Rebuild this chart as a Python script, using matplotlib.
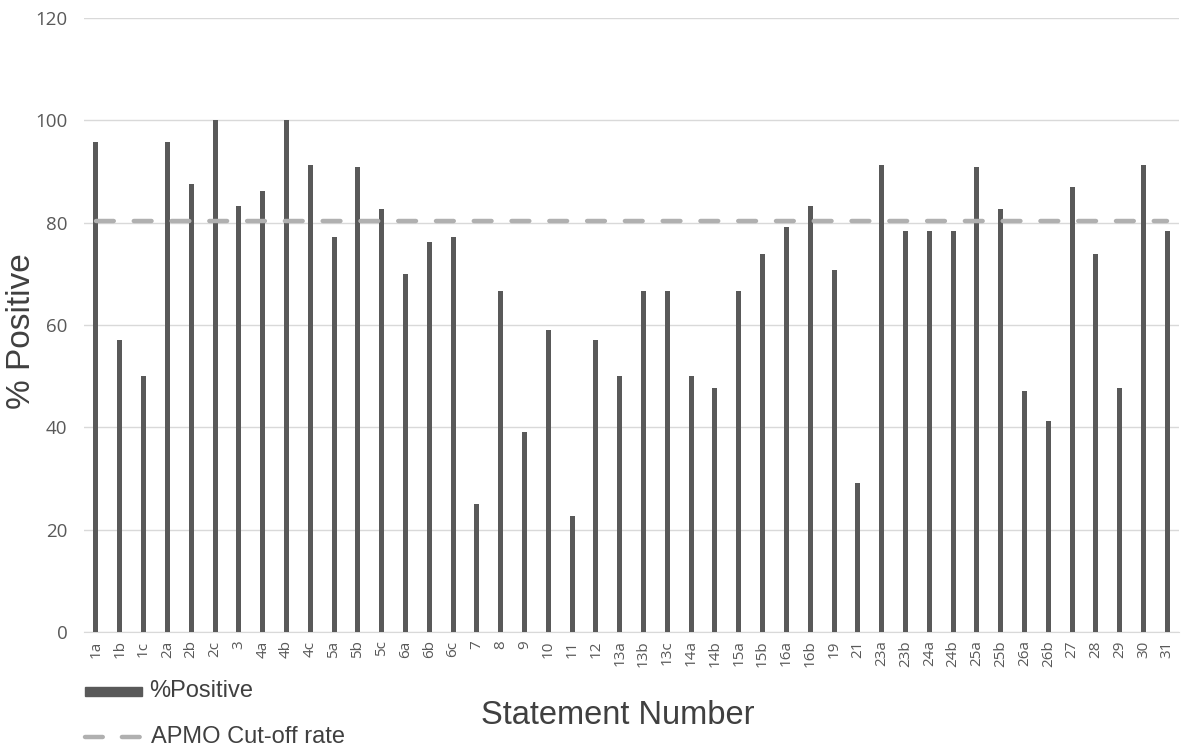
import numpy as np
import matplotlib.pyplot as plt
from matplotlib.lines import Line2D
from matplotlib.patches import Rectangle

# Data
statements = ["1a", "1b", "1c", "2a", "2b", "2c", "3", "4a", "4b", "4c",
              "5a", "5b", "5c", "6a", "6b", "6c", "7", "8", "9", "10",
              "11", "12", "13a", "13b", "13c", "14a", "14b", "15a", "15b", "16a",
              "16b", "19", "21", "23a", "23b", "24a", "24b", "25a", "25b", "26a",
              "26b", "27", "28", "29", "30", "31"]
pct_positive = [95.7, 57.1, 50.0, 95.8, 87.5, 100.0, 83.3, 86.2, 100.0, 91.3,
                77.3, 90.9, 82.6, 70.0, 76.2, 77.3, 25.0, 66.7, 39.1, 59.1,
                22.7, 57.1, 50.0, 66.7, 66.7, 50.0, 47.8, 66.7, 73.9, 79.2,
                83.3, 70.8, 29.2, 91.3, 78.3, 78.3, 78.3, 90.9, 82.6, 47.1,
                41.2, 87.0, 73.9, 47.8, 91.3, 78.3]
cutoff = 80.3

bar_color = "#595959"
line_color = "#b0b0b0"
text_color = "#595959"

fig = plt.figure(figsize=(11.84, 7.49), dpi=100)
ax = fig.add_axes([0.071, 0.156, 0.925, 0.82])

x = np.arange(len(statements))
ax.bar(x, pct_positive, width=0.21, color=bar_color, zorder=3)
ax.plot([0, len(statements) - 1], [cutoff, cutoff], color=line_color,
        lw=3.2, dashes=(4.0, 4.5), dash_capstyle="round", zorder=4)

ax.set_xlim(-0.5, len(statements) - 0.5)
ax.set_ylim(0, 120)
ax.set_yticks(range(0, 121, 20))
ax.grid(axis="y", color="#d9d9d9", lw=1, zorder=0)
ax.set_xticks(x)
ax.set_xticklabels(statements, rotation=90, family="Open Sans", fontsize=11, color=text_color)
for lab in ax.get_yticklabels():
    lab.set_family("Open Sans")
    lab.set_fontsize(13.5)
    lab.set_color(text_color)
ax.tick_params(axis="y", length=0, pad=12)
ax.tick_params(axis="x", length=0, pad=6)
for side in ["top", "right", "left"]:
    ax.spines[side].set_visible(False)
ax.spines["bottom"].set_color("#d9d9d9")

# axis titles
fig.text(22 / 1184, 1 - 331 / 749, "% Positive", family="Liberation Sans", fontsize=24,
         color="#404040", rotation=90, ha="center", va="center")
fig.text(0.522, 0.045, "Statement Number", family="Liberation Sans", fontsize=23.5,
         color="#404040", ha="center", va="center")

# Legend placed under the axis, left side
fig.patches.append(Rectangle((85 / 1184, 1 - 696 / 749), 57 / 1184, 9 / 749,
                             transform=fig.transFigure, color=bar_color))
fig.text(149 / 1184, 1 - 691 / 749, "%Positive", family="Liberation Sans", fontsize=17,
         color="#404040", va="center")
fig.lines.append(Line2D([85 / 1184, 142 / 1184], [1 - 737 / 749, 1 - 737 / 749],
                        transform=fig.transFigure, color=line_color, lw=3.2,
                        dashes=(4.0, 4.3), dash_capstyle="round"))
fig.text(151 / 1184, 1 - 737 / 749, "APMO Cut-off rate", family="Liberation Sans", fontsize=17,
         color="#404040", va="center")

fig.savefig("out.png", dpi=100)
